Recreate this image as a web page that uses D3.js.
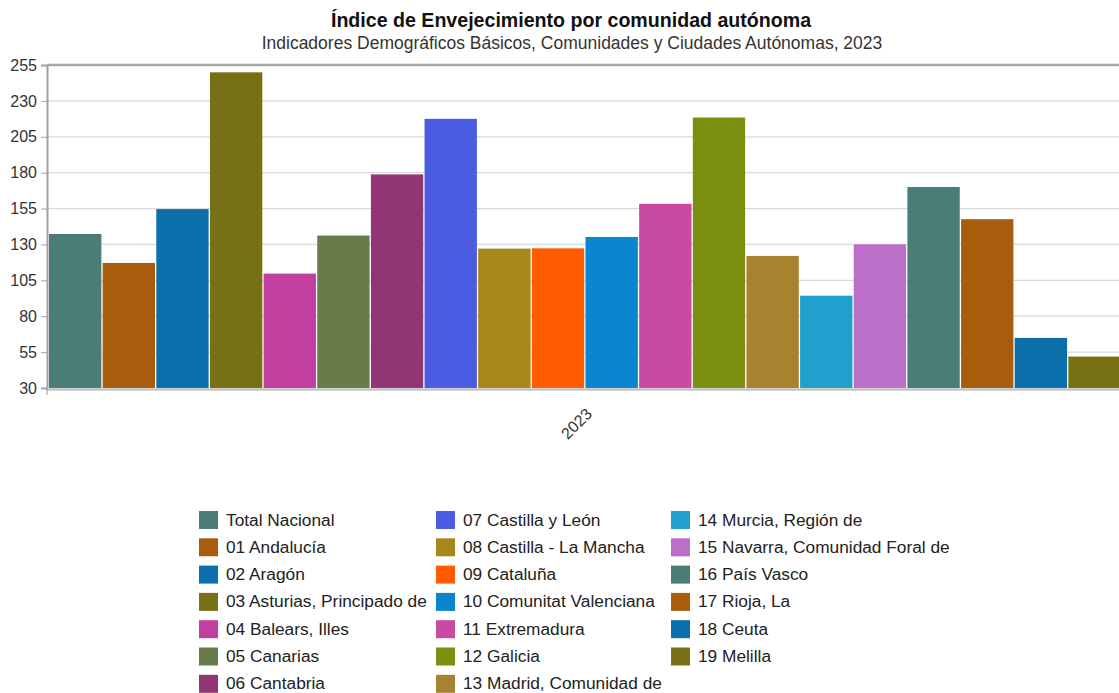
<!DOCTYPE html>
<html>
<head>
<meta charset="utf-8">
<script src="https://cdn.jsdelivr.net/npm/d3@7"></script>
<style>
body{margin:0;background:#fff;}
svg{font-family:"Liberation Sans",Arial,sans-serif;}
</style>
</head>
<body>
<svg id="chart" width="1119" height="693"></svg>
<script>
const categories = ["Total Nacional","01 Andalucía","02 Aragón","03 Asturias, Principado de","04 Balears, Illes","05 Canarias","06 Cantabria","07 Castilla y León","08 Castilla - La Mancha","09 Cataluña","10 Comunitat Valenciana","11 Extremadura","12 Galicia","13 Madrid, Comunidad de","14 Murcia, Región de","15 Navarra, Comunidad Foral de","16 País Vasco","17 Rioja, La","18 Ceuta","19 Melilla"];
const values = [137.3,117.1,154.6,249.9,109.7,136.2,178.8,217.5,127.1,127.3,135.2,158.3,218.4,122.0,94.3,130.1,170.0,147.6,64.9,51.9];
const colors = ["#4a7d75","#a85d0d","#0b6fab","#787015","#c23f9f","#6a7b4a","#923574","#4a5de2","#a8871a","#ff5b00","#0a85d0","#c84aa3","#7d8f10","#a9822f","#1fa0cd","#bb6fc8","#4a7d75","#a85d0d","#0b6fab","#787015"];
const yTicks = [30,55,80,105,130,155,180,205,230,255];
const xLabel = "2023";
const title = "Índice de Envejecimiento por comunidad autónoma";
const subtitle = "Indicadores Demográficos Básicos, Comunidades y Ciudades Autónomas, 2023";

(function(){
const svg = d3.select("#chart");
const mLeft = 47, mRight = 1122, mTop = 65, mBottom = 388;

const y = d3.scaleLinear().domain([30,255]).range([mBottom, mTop]);
const x = d3.scaleBand().domain(categories).range([mLeft + 2, mRight]).paddingInner(0).paddingOuter(0);

svg.append("text").attr("x",571).attr("y",27).attr("text-anchor","middle")
  .attr("font-size","19.6px").attr("font-weight","bold").attr("fill","#111").text(title);
svg.append("text").attr("x",572).attr("y",49).attr("text-anchor","middle")
  .attr("font-size","17.5px").attr("fill","#333").text(subtitle);

// grid
svg.append("g").selectAll("line").data(yTicks.slice(1)).join("line")
  .attr("x1",mLeft).attr("x2",1119).attr("y1",d=>y(d)).attr("y2",d=>y(d))
  .attr("stroke",d=>d===255?"#a8a8a8":"#d9d9d9").attr("stroke-width",d=>d===255?2.5:1.2);

// y axis
const yAxis = d3.axisLeft(y).tickValues(yTicks).tickSize(6).tickPadding(4);
const ya = svg.append("g").attr("transform",`translate(${mLeft},0)`).call(yAxis);
ya.select(".domain").attr("stroke","#a0a0a0").attr("stroke-width",2);
ya.selectAll(".tick line").attr("stroke","#a0a0a0");
ya.selectAll(".tick text").attr("font-size","16px").attr("fill","#333").attr("font-family","Liberation Sans, Arial, sans-serif");

// bars
svg.append("g").selectAll("rect").data(categories).join("rect")
  .attr("x",d=>x(d)).attr("width",x.bandwidth()-1.3)
  .attr("y",(d,i)=>y(values[i])).attr("height",(d,i)=>mBottom - y(values[i]))
  .attr("fill",(d,i)=>colors[i]);

// x axis line
svg.append("line").attr("x1",mLeft-1).attr("x2",1119).attr("y1",mBottom+1.5).attr("y2",mBottom+1.5)
  .attr("stroke","#b8b8b8").attr("stroke-width",2);
svg.append("line").attr("x1",mLeft).attr("x2",mLeft).attr("y1",mBottom).attr("y2",mBottom+7)
  .attr("stroke","#a0a0a0").attr("stroke-width",1);

// x label
svg.append("text").attr("transform","translate(590,412) rotate(-45)")
  .attr("text-anchor","end").attr("dominant-baseline","middle")
  .attr("font-size","16px").attr("fill","#333").text(xLabel);

// legend
const colX = [199, 436, 671];
const rowsPerCol = 7;
const lg = svg.append("g").selectAll("g").data(categories).join("g")
  .attr("transform",(d,i)=>`translate(${colX[Math.floor(i/rowsPerCol)]},${511 + (i%rowsPerCol)*27.3})`);
lg.append("rect").attr("width",19).attr("height",18).attr("fill",(d,i)=>colors[i]);
lg.append("text").attr("x",27).attr("y",10).attr("dominant-baseline","middle")
  .attr("font-size","17.3px").attr("fill","#222").text(d=>d);
})();
</script>
</body>
</html>
